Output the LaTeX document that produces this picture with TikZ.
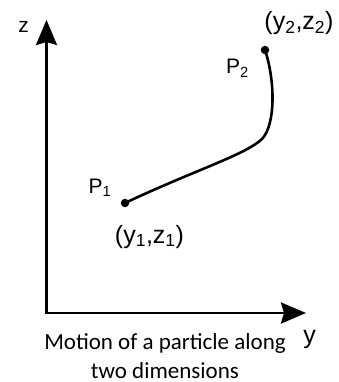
\documentclass[tikz,border=0pt]{standalone}
\usepackage{fontspec}
\setmainfont{Liberation Sans}
\newfontfamily\captionfont{Carlito}
\usetikzlibrary{arrows.meta}

\begin{document}
\begin{tikzpicture}[
       x=1pt, y=-1pt,
       axis/.style={
           line width=2.8pt,
           line join=miter,
           {Stealth[length=25pt, width=21pt, inset=3pt]}-{Stealth[length=25pt, width=21pt, inset=3pt]}
       },
       trajectory/.style={line width=2.6pt},
       point/.style={
           circle,
           fill=black,
           inner sep=0pt,
           minimum size=8.5pt
       },
       lbl/.style={inner sep=0pt, anchor=base, font=\fontsize{21}{25}\selectfont},
       coordlbl/.style={inner sep=0pt, anchor=base, font=\fontsize{25}{29}\selectfont}
   ]
   \useasboundingbox (0,0) rectangle (339,382);

   % Axes
   \coordinate (O) at (46.5,313);
   \coordinate (ztip) at (46.5,20);
   \coordinate (ytip) at (306,313);
   \draw[axis] (ztip) -- (O) -- (ytip);

   \node[lbl] (zlabel) at (23.5,33) {z};
   \node[lbl, font=\fontsize{25}{29}\selectfont] (ylabel) at (309.5,343) {y};

   % End points
   \node[point] (p1) at (125,203) {};
   \node[point] (p2) at (265,50) {};

   % Path of the particle
   \draw[trajectory] (p1.center)
       .. controls (195,170) and (245,155) .. (262,139)
       .. controls (276,124) and (275,80) .. (p2.center);

   % Labels
   \node[lbl] (p1label) at (100,193) {P\textsubscript{1}};
   \node[lbl] (p2label) at (237.5,74) {P\textsubscript{2}};
   \node[coordlbl] (p1coord) at (149.5,243) {(y\textsubscript{1},z\textsubscript{1})};
   \node[coordlbl] (p2coord) at (299,30) {(y\textsubscript{2},z\textsubscript{2})};

   % Caption
   \node[anchor=base, inner sep=0pt, align=center,
         font=\captionfont\fontsize{23}{29}\selectfont] (caption) at (165,378)
       {Motion of a particle along\\two dimensions};

\end{tikzpicture}
\end{document}
